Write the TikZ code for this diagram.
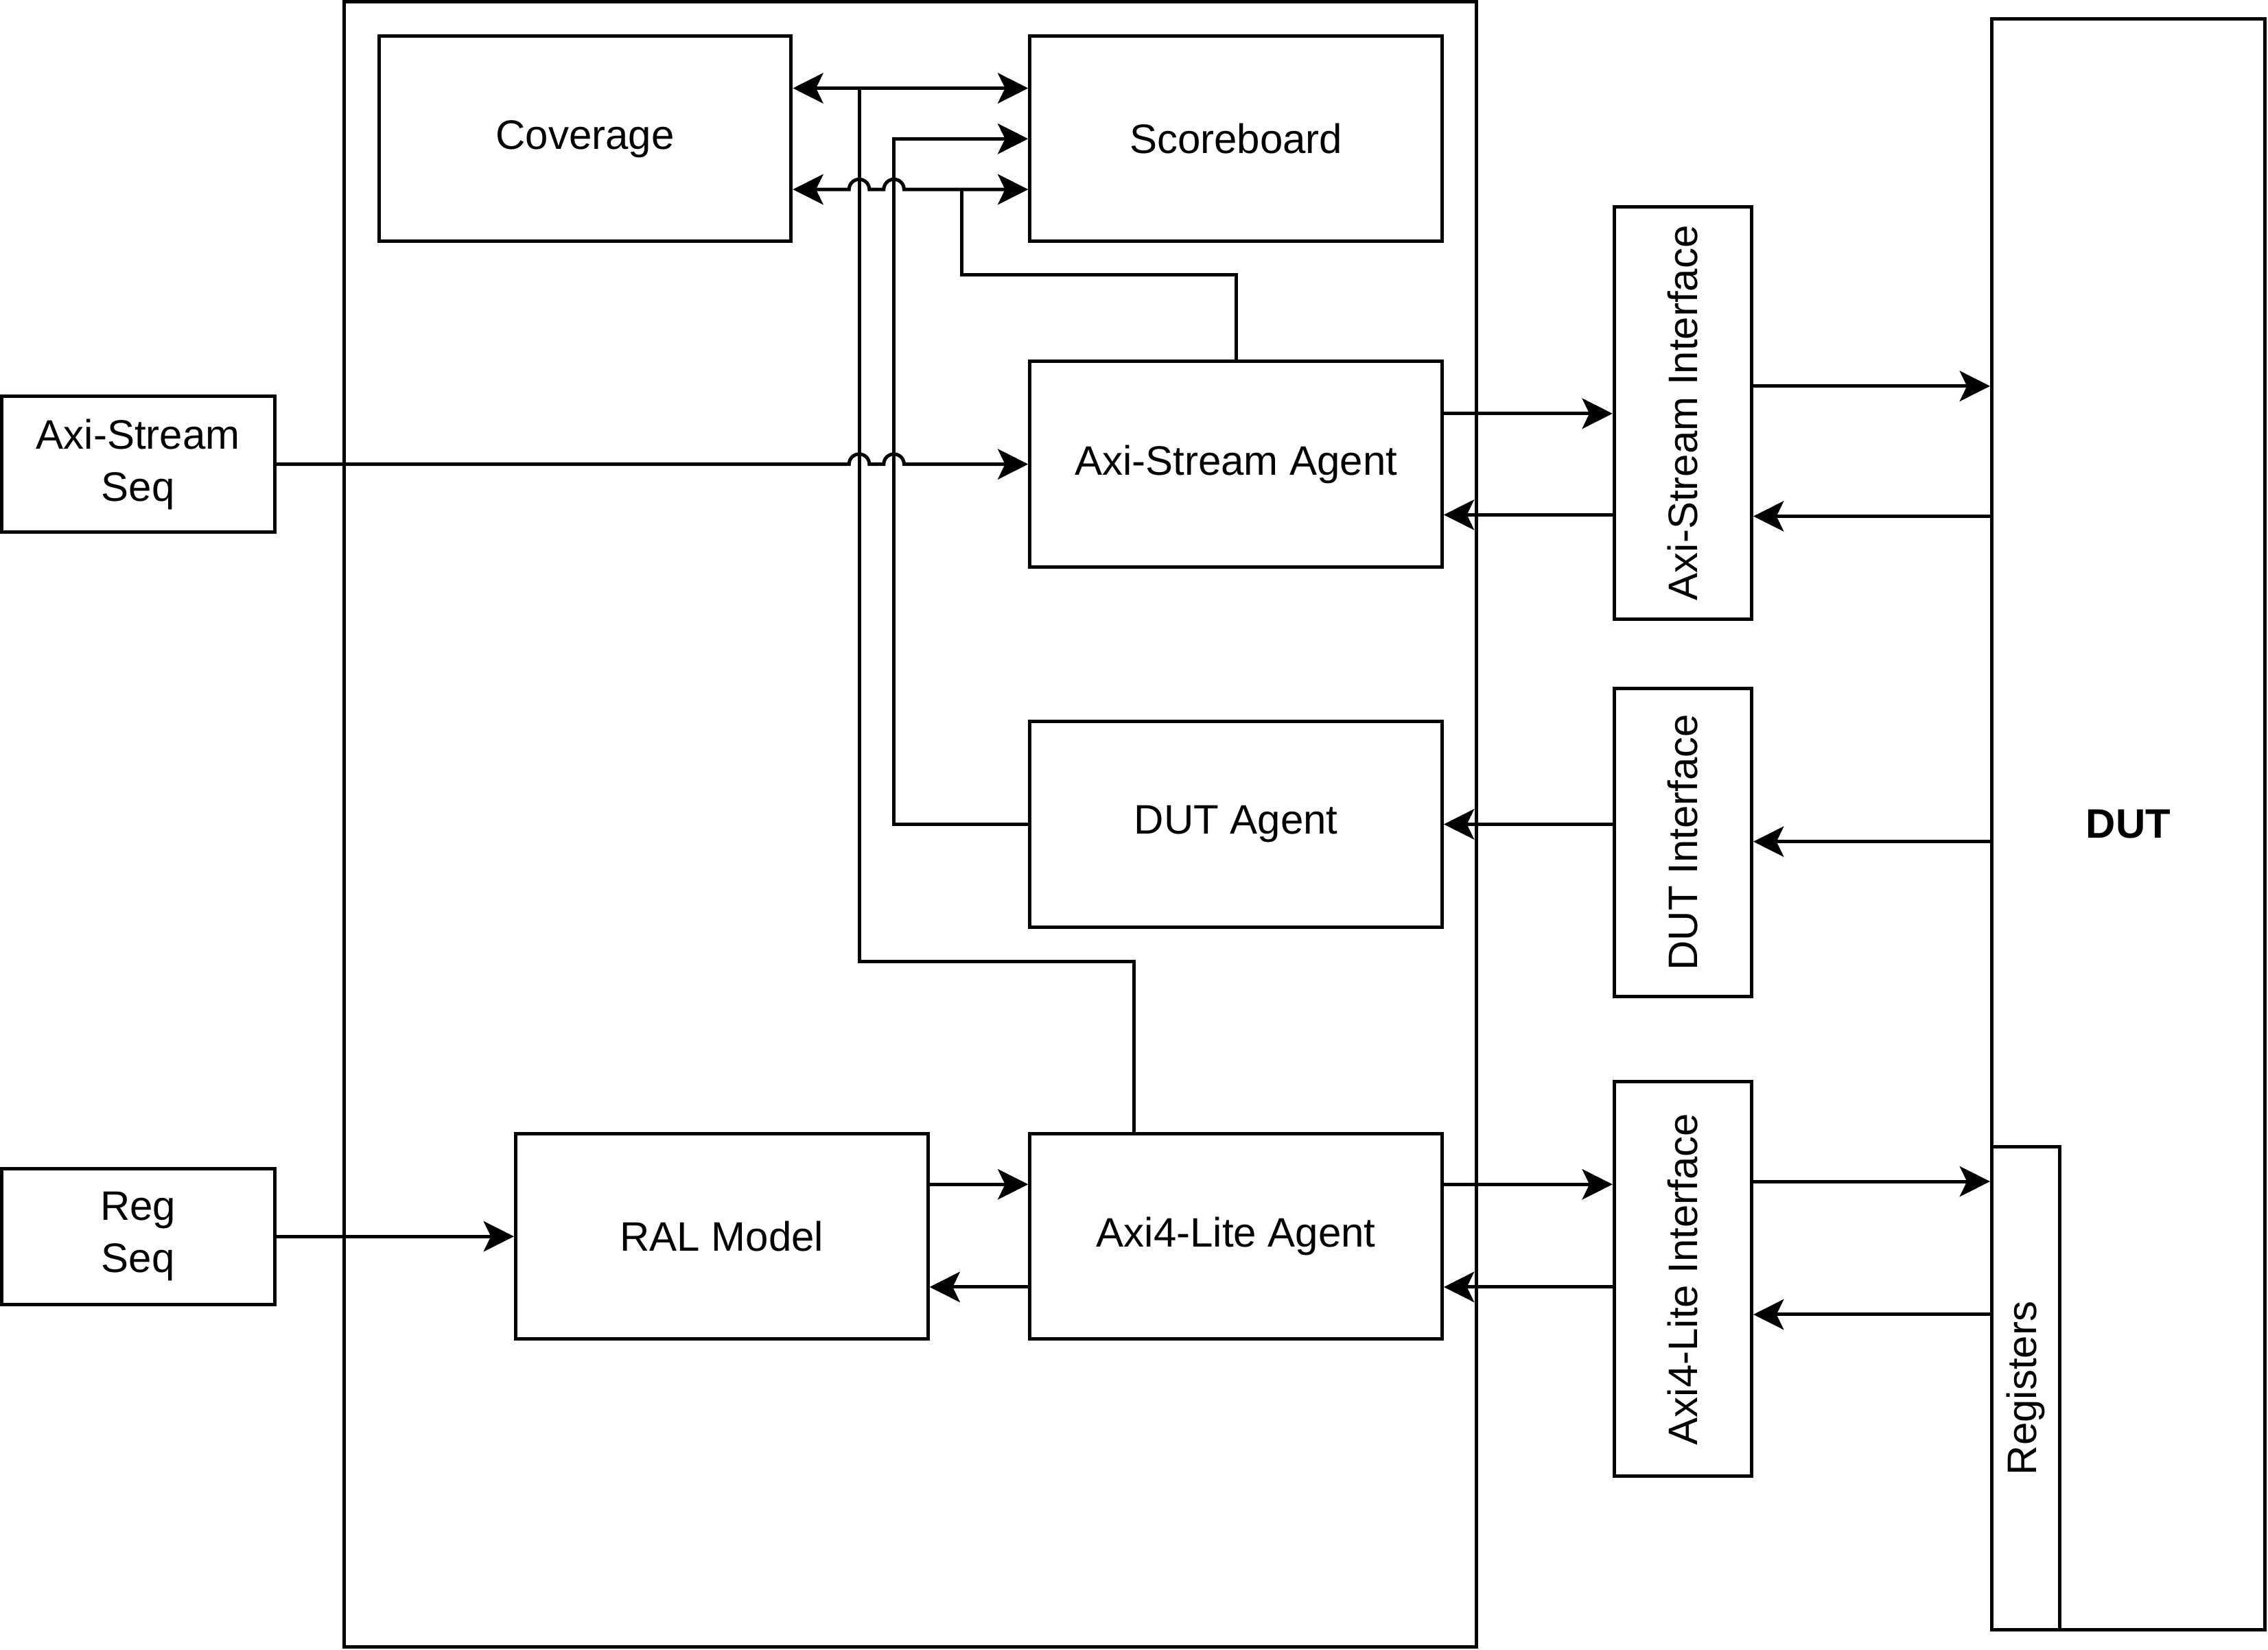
\documentclass[tikz,border=0pt]{standalone}
\usepackage{fontspec}
\setmainfont{Liberation Sans}
\usetikzlibrary{arrows.meta}

\begin{document}
\begin{tikzpicture}[x=0.02cm,y=-0.02cm,line width=1.35pt,font=\fontsize{16.2}{20.5}\selectfont]
    \tikzstyle{block}=[draw,rectangle,inner sep=0pt,minimum width=5.7cm,minimum height=2.84cm]
    \tikzstyle{seq}=[block,minimum width=3.78cm,minimum height=1.88cm,align=center]
    \tikzstyle{iface}=[draw,rectangle,inner sep=0pt,minimum width=1.9cm]
    \tikzstyle{arr}=[-{Stealth[length=0.42cm,width=0.42cm,inset=0.1cm]}]
    \tikzstyle{darr}=[{Stealth[length=0.42cm,width=0.42cm,inset=0.1cm]}-{Stealth[length=0.42cm,width=0.42cm,inset=0.1cm]}]

    \useasboundingbox (0,0) rectangle (1568,1141);

    % Draw the environment and the DUT
    \node[draw,rectangle,minimum width=15.66cm,minimum height=22.76cm] (env) at (629.5,570) {};
    \node[draw,rectangle,minimum width=3.78cm,minimum height=22.28cm] (dut) at (1471.5,570) {\textbf{DUT}};
    \node[iface,minimum width=0.94cm,minimum height=6.68cm] (regs) at (1400.5,960) {\rotatebox{90}{Registers}};

    % Draw the sequences
    \node[seq] (asseq) at (95.5,321) {Axi-Stream\\Seq};
    \node[seq] (regseq) at (95.5,855) {Reg\\Seq};

    % Draw the components inside the environment
    \node[block] (cov) at (404.5,96) {Coverage};
    \node[block] (sb) at (854.5,96) {Scoreboard};
    \node[block] (asagent) at (854.5,321) {Axi-Stream Agent};
    \node[block] (dutagent) at (854.5,570) {DUT Agent};
    \node[block] (ral) at (499,855) {RAL Model};
    \node[block] (alagent) at (854.5,855) {Axi4-Lite Agent};

    % Draw the interfaces
    \node[iface,minimum height=5.7cm] (asif) at (1163.5,285.5) {\rotatebox{90}{Axi-Stream Interface}};
    \node[iface,minimum height=4.26cm] (dutif) at (1163.5,582.5) {\rotatebox{90}{DUT Interface}};
    \node[iface,minimum height=5.46cm] (alif) at (1163.5,884.5) {\rotatebox{90}{Axi4-Lite Interface}};

    % Connect the analysis ports to coverage and scoreboard
    \draw[darr] (cov.east |- 0,61) -- (sb.west |- 0,61);
    \draw (alagent.north -| 784,0) |- (594,665) -- (594,61);
    \draw[arr] (dutagent.west) -| (618,96) -- (sb.west |- 0,96);
    \draw[darr] (cov.east |- 0,131) -- (587,131) arc[start angle=180,end angle=0,radius=0.14cm]
        -- (611,131) arc[start angle=180,end angle=0,radius=0.14cm] -- (sb.west |- 0,131);
    \draw (asagent.north) |- (665,190) -- (665,131);

    % Sequences to agents
    \draw[arr] (asseq.east) -- (587,321) arc[start angle=180,end angle=0,radius=0.14cm]
        -- (611,321) arc[start angle=180,end angle=0,radius=0.14cm] -- (asagent.west);
    \draw[arr] (regseq.east) -- (ral.west);
    \draw[arr] (ral.east |- 0,819) -- (alagent.west |- 0,819);
    \draw[arr] (alagent.west |- 0,890) -- (ral.east |- 0,890);

    % Agents to interfaces
    \draw[arr] (asagent.east |- 0,286) -- (asif.west |- 0,286);
    \draw[arr] (asif.west |- 0,356) -- (asagent.east |- 0,356);
    \draw[arr] (dutif.west |- 0,570) -- (dutagent.east |- 0,570);
    \draw[arr] (alagent.east |- 0,819) -- (alif.west |- 0,819);
    \draw[arr] (alif.west |- 0,890) -- (alagent.east |- 0,890);

    % Interfaces to the DUT
    \draw[arr] (asif.east |- 0,267) -- (dut.west |- 0,267);
    \draw[arr] (dut.west |- 0,357) -- (asif.east |- 0,357);
    \draw[arr] (dut.west |- 0,582) -- (dutif.east |- 0,582);
    \draw[arr] (alif.east |- 0,817) -- (dut.west |- 0,817);
    \draw[arr] (regs.west |- 0,909) -- (alif.east |- 0,909);
\end{tikzpicture}
\end{document}
